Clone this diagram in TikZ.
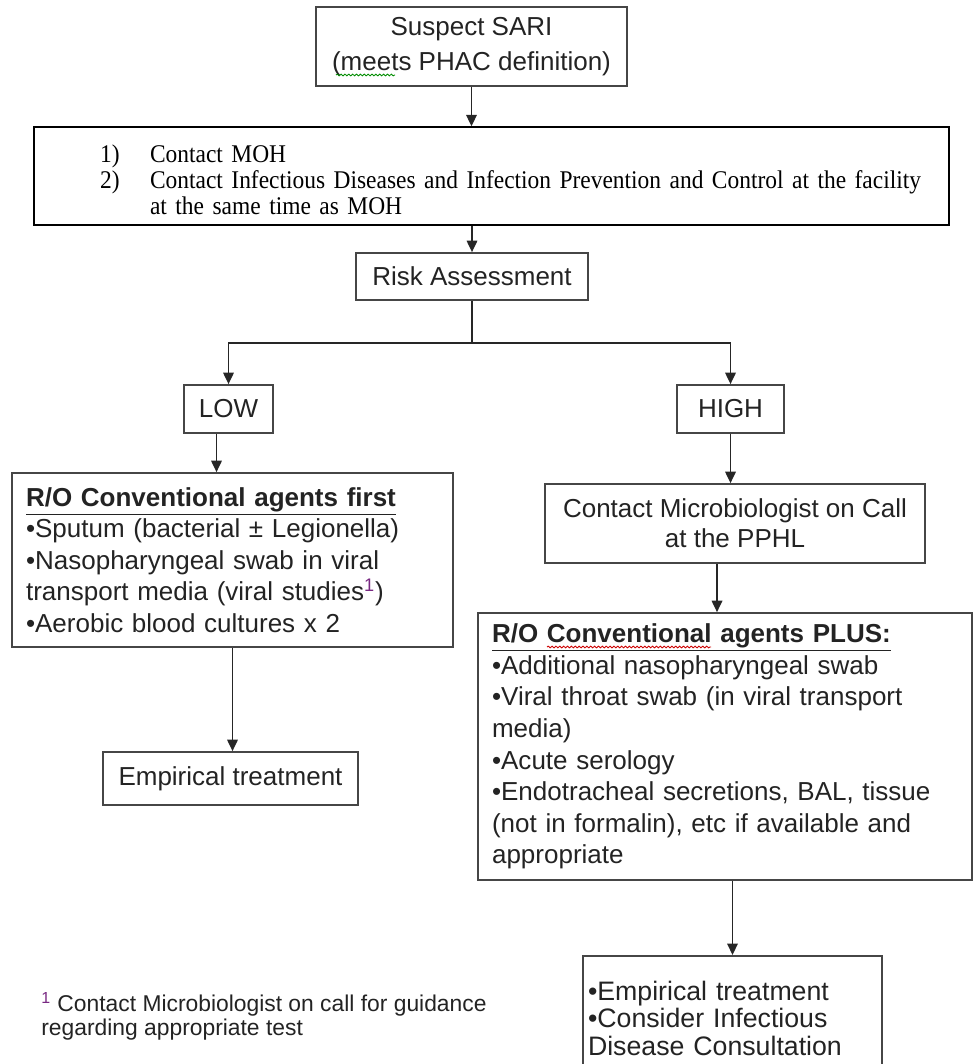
\documentclass[tikz,border=0pt]{standalone}
\usepackage{fontspec}
\setmainfont{Liberation Sans}
\newfontfamily\timesfont[FakeStretch=0.92]{Liberation Serif}
\usepackage{tikz}
\usetikzlibrary{arrows.meta, positioning, decorations.pathmorphing}
\definecolor{boxgray}{RGB}{70,70,70}
\definecolor{txtgray}{RGB}{35,35,35}
\definecolor{supcol}{RGB}{120,40,130}

\begin{document}
\begin{tikzpicture}[x=0.02cm, y=-0.02cm,
    every node/.style={font=\fontsize{14.8}{18}\selectfont, text=txtgray},
    box/.style={rectangle, draw=boxgray, line width=1pt, inner sep=0pt, align=center},
    listbox/.style={rectangle, draw=boxgray, line width=1pt, align=left, inner xsep=0.28cm, inner ysep=0pt},
    arr/.style={-{Triangle[length=6.5pt,width=6pt]}, line width=0.9pt, black!85},
    squiggle/.style={decorate, decoration={snake, amplitude=0.5pt, segment length=2.2pt}, line width=0.5pt}
  ]
    \useasboundingbox (0,0) rectangle (977,1064);

    % oben: Verdachtsfall und Meldung
    \node[box, minimum width=6.22cm, minimum height=1.58cm, font=\fontsize{14.8}{20}\selectfont] (sari) at (471.5,46.5) {Suspect SARI\\(meets PHAC definition)};
    \node[rectangle, draw=black, line width=0.8pt, minimum width=18.3cm, minimum height=1.96cm, text width=17.9cm, align=left, inner xsep=0.2cm, text=black,
          font=\timesfont\fontsize{14.5}{14.9}\selectfont] (plan) at (491.5,176)
        {\rule{0pt}{0.5cm}\hspace*{1.12cm}\makebox[1cm][l]{1)}Contact MOH\\
         \hspace*{1.12cm}\makebox[1cm][l]{2)}Contact Infectious Diseases and Infection Prevention and Control at the facility\\
         \hspace*{2.12cm}at the same time as MOH};
    \node[box, minimum width=4.64cm, minimum height=0.94cm] (risk) at (472,276.5) {Risk Assessment};
    \coordinate (split) at (472,343);

    % zwei Zweige
    \node[box, minimum width=1.78cm, minimum height=0.96cm] (low) at (228.5,409) {LOW};
    \node[box, minimum width=2.14cm, minimum height=0.96cm] (high) at (730.5,409) {HIGH};

    % linker Zweig
    \node[listbox, minimum width=8.82cm, minimum height=3.48cm, text width=8.26cm] (first) at (232.5,560)
        {\underline{\textbf{R/O Conventional agents first}}\\
         •Sputum (bacterial ± Legionella)\\
         •Nasopharyngeal swab in viral\\
         transport media (viral studies\textsuperscript{\color{supcol}1})\\
         •Aerobic blood cultures x 2};
    \node[box, minimum width=5.1cm, minimum height=1.06cm] (emp) at (230.5,778.5) {Empirical treatment};

    % rechter Zweig
    \node[box, minimum width=7.6cm, minimum height=1.58cm, font=\fontsize{14.8}{17}\selectfont] (micro) at (735,523.5) {Contact Microbiologist on Call\\at the PPHL};
    \node[listbox, minimum width=9.88cm, minimum height=5.34cm, text width=9.32cm] (plus) at (725,746.5)
        {\underline{\textbf{R/O Conventional agents PLUS:}}\\
         •Additional nasopharyngeal swab\\
         •Viral throat swab (in viral transport\\
         media)\\
         •Acute serology\\
         •Endotracheal secretions, BAL, tissue\\
         (not in formalin), etc if available and\\
         appropriate};
    \node[listbox, anchor=north, minimum width=5.98cm, text width=5.78cm, inner xsep=0.1cm, inner ysep=0.5cm,
          font=\fontsize{15.2}{15.8}\selectfont] (treat) at (732.5,955)
        {•Empirical treatment\\
         •Consider Infectious\\
         Disease Consultation};

    % Fussnote
    \node[anchor=north west, align=left, inner sep=0pt, font=\fontsize{13}{14.2}\selectfont] (note) at (41,992)
        {\textsuperscript{\color{supcol}1} Contact Microbiologist on call for guidance\\
         regarding appropriate test};

    % Rechtschreib-Wellen
    \draw[squiggle, green!55!black] (336,75) -- (395,75);
    \draw[squiggle, red!80!black] (547,647) -- (711,647);

    % Pfeile
    \draw[arr] (sari.south) -- (sari.south |- plan.north);
    \draw[arr] (risk.north |- plan.south) -- (risk.north);
    \draw[line width=0.9pt, black!85] (risk.south) -- (split);
    \draw[arr] (split) -| (low.north);
    \draw[arr] (split) -| (high.north);
    \coordinate (lowout) at ([xshift=-0.24cm]low.south);
    \draw[arr] (lowout) -- (lowout |- first.north);
    \draw[arr] (first.south) -- (first.south |- emp.north);
    \draw[arr] (high.south) -- (high.south |- micro.north);
    \coordinate (microout) at ([xshift=-0.36cm]micro.south);
    \draw[arr] (microout) -- (microout |- plus.north);
    \draw[arr] (treat.north |- plus.south) -- (treat.north);
\end{tikzpicture}
\end{document}
